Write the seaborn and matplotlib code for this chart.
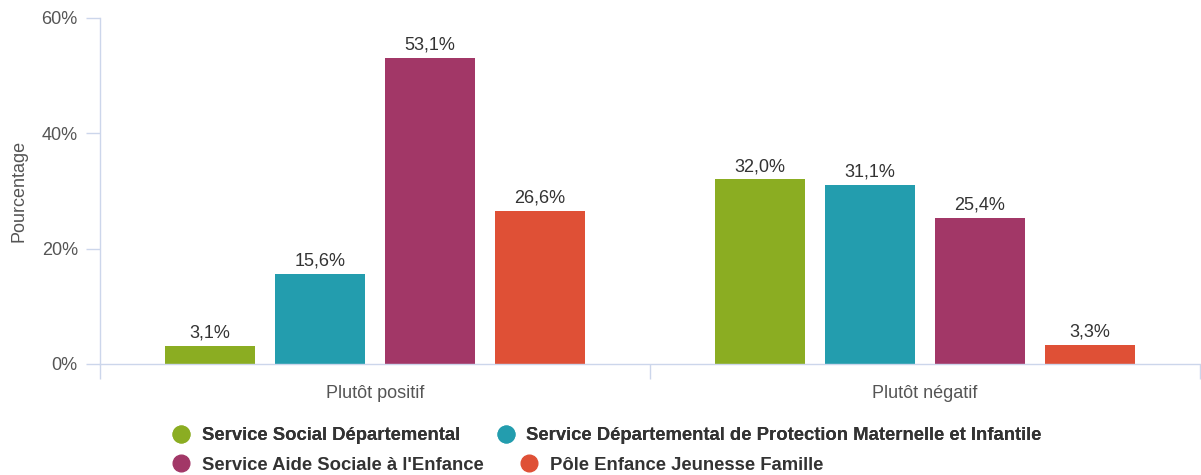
import pandas as pd
import matplotlib
matplotlib.use("Agg")
import matplotlib.pyplot as plt
import seaborn as sns
from matplotlib.lines import Line2D
from matplotlib.ticker import FixedLocator

# ==========================================================
# Data
# ==========================================================

categories = ["Plutôt positif", "Plutôt négatif"]
services = [
    "Service Social Départemental",
    "Service Départemental de Protection Maternelle et Infantile",
    "Service Aide Sociale à l'Enfance",
    "Pôle Enfance Jeunesse Famille",
]
ssd_values = [3.1, 32.0]
spmi_values = [15.6, 31.1]
sase_values = [53.1, 25.4]
pejf_values = [26.6, 3.3]

colors = ["#8bad22", "#239dae", "#a23767", "#df5036"]
y_ticks = [0, 20, 40, 60]

# ==========================================================
# Build long-form table
# ==========================================================

rows = []
for service, values in zip(services, [ssd_values, spmi_values, sase_values, pejf_values]):
    for cat, v in zip(categories, values):
        rows.append({"categorie": cat, "service": service, "valeur": v})
df = pd.DataFrame(rows)

# ==========================================================
# Plot
# ==========================================================

sns.set_theme(style="white")
plt.rcParams["font.family"] = ["Liberation Sans", "DejaVu Sans"]

AXIS_COLOR = "#ccd6eb"

fig = plt.figure(figsize=(12.01, 4.75), dpi=100)
ax = fig.add_axes([100 / 1201, 1 - 364 / 475, 1100 / 1201, 346 / 475])

sns.barplot(
    data=df, x="categorie", y="valeur", hue="service",
    order=categories, hue_order=services, palette=colors,
    width=0.8, gap=0.19, saturation=1, linewidth=0,
    legend=False, errorbar=None, ax=ax,
)

for container in ax.containers:
    labels = [f"{v:.1f}%".replace(".", ",") for v in container.datavalues]
    ax.bar_label(container, labels=labels, padding=3, fontsize=13, color="#333333")

ax.set_xlim(-0.5, 1.5)
ax.set_ylim(0, 60)
ax.set_yticks(y_ticks)
ax.set_yticklabels([f"{t}%" for t in y_ticks])
ax.set_xlabel("")
ax.set_ylabel("Pourcentage", fontsize=13, color="#555555", labelpad=10)

for side in ["top", "right"]:
    ax.spines[side].set_visible(False)
for side in ["left", "bottom"]:
    ax.spines[side].set_color(AXIS_COLOR)
    ax.spines[side].set_linewidth(1)

ax.tick_params(axis="y", length=10, width=1, color=AXIS_COLOR, pad=6,
               labelsize=13, labelcolor="#555555", left=True)
ax.tick_params(axis="x", which="major", length=0, pad=15,
               labelsize=13, labelcolor="#555555")
ax.xaxis.set_minor_locator(FixedLocator([-0.5, 0.5, 1.5]))
ax.tick_params(axis="x", which="minor", length=11, width=1,
               color=AXIS_COLOR, bottom=True)

# ==========================================================
# Legend (two rows, Highcharts-like flow)
# ==========================================================

def handle(color):
    return Line2D([], [], linestyle="none", marker="o", markersize=12,
                  markerfacecolor=color, markeredgecolor=color)

legend_style = dict(
    frameon=False, ncol=2, loc="center left", borderpad=0, borderaxespad=0,
    handlelength=1.0, handletextpad=0.6, columnspacing=2.0,
    prop={"size": 13.3, "weight": "bold"}, labelcolor="#333333",
)

leg1 = fig.legend([handle(colors[0]), handle(colors[1])], services[:2],
                  bbox_to_anchor=(172 / 1201, 1 - 436 / 475), **legend_style)
fig.add_artist(leg1)
fig.legend([handle(colors[2]), handle(colors[3])], services[2:],
           bbox_to_anchor=(172 / 1201, 1 - 465 / 475), **legend_style)

fig.savefig("out.png", dpi=100)
plt.close(fig)
